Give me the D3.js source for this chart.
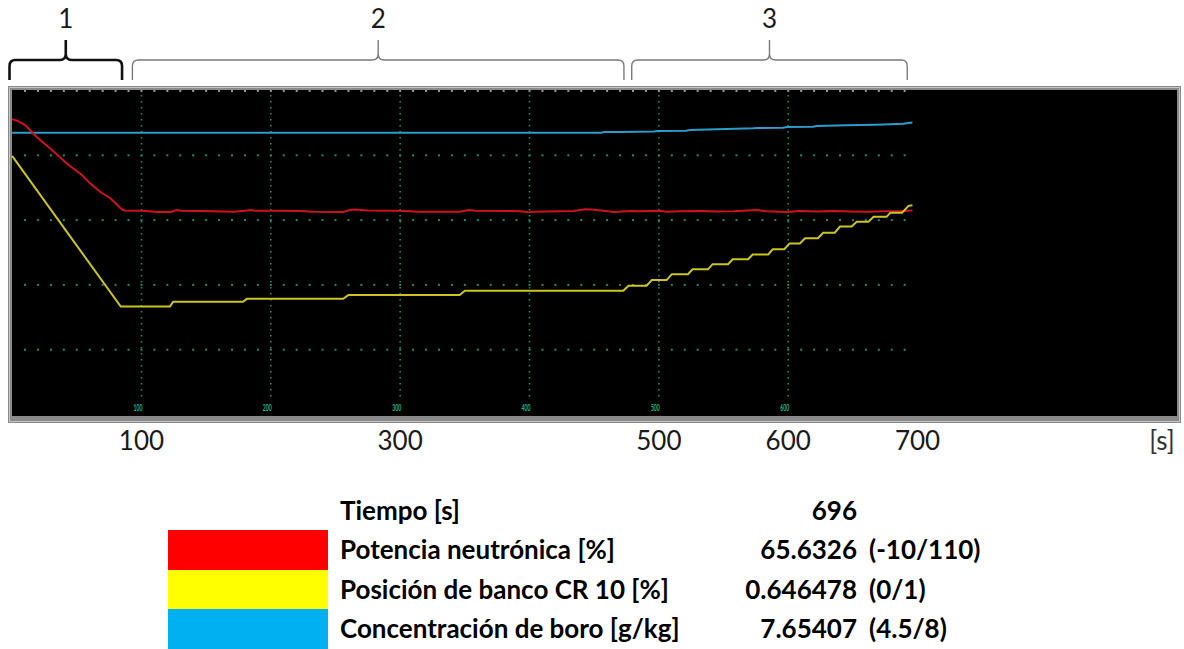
<!DOCTYPE html>
<html><head><meta charset="utf-8">
<script src="https://cdn.jsdelivr.net/npm/d3@7"></script>
<style>html,body{margin:0;padding:0;background:#fff;} svg{display:block;}</style>
</head><body>
<script>
// ---- data (time [s], value) ----
const redSeries = [[0,99.4],[4,98.8],[10,97.2],[15,94.8],[19,92.8],[24,90.7],[30,88.3],[36,85.7],[42,83.1],[46,81.6],[54,78.7],[60,75.7],[68,72.5],[76,70.1],[82,67.3],[85,65.9],[87,65.6],[101,65.5],[108,65.2],[112,65.0],[123,65.0],[127,65.7],[131,65.5],[155,65.3],[171,65.1],[180,65.5],[184,65.7],[188,65.5],[207,65.5],[222,65.4],[233,65.1],[256,65.0],[261,65.7],[265,65.9],[275,65.6],[300,65.5],[315,65.1],[346,65.1],[353,65.7],[358,65.5],[393,65.3],[399,64.9],[403,65.1],[434,65.4],[443,66.0],[448,65.9],[457,65.5],[465,65.0],[478,65.4],[485,65.3],[494,65.4],[501,65.5],[506,65.1],[516,65.3],[532,65.4],[545,65.2],[558,65.3],[576,65.7],[583,65.3],[599,65.0],[609,65.4],[622,65.2],[635,65.4],[648,65.2],[661,65.1],[674,65.3],[686,65.3],[696,65.6]];
const yellowSeries = [[0,0.798],[84,0.333],[122,0.333],[124.5,0.348],[178.5,0.348],[181.5,0.357],[256,0.357],[260,0.369],[346,0.369],[350,0.382],[472.5,0.382],[476.5,0.397],[490.5,0.397],[494.5,0.415],[506,0.415],[510,0.433],[522.5,0.433],[526,0.448],[538,0.448],[541.5,0.464],[553.5,0.464],[557,0.479],[569,0.479],[572.5,0.494],[584.5,0.494],[588,0.510],[597,0.510],[601,0.528],[609,0.528],[613,0.544],[623,0.544],[627,0.561],[636,0.561],[640,0.580],[649,0.580],[653,0.595],[662,0.595],[666,0.610],[676,0.610],[679,0.623],[688,0.623],[693,0.644],[696,0.646]];
const blueSeries = [[0,7.544],[455,7.544],[458,7.551],[470,7.552],[496,7.556],[499,7.563],[521,7.566],[524,7.573],[545,7.581],[552,7.584],[573,7.592],[576,7.595],[596,7.598],[599,7.606],[619,7.609],[622,7.617],[645,7.624],[668,7.631],[689,7.641],[696,7.654]];

const gridTimes = [100,200,300,400,500,600];
const gridLevels = [0.2,0.4,0.6,0.8];
const axisLabels = [100,300,500,600,700];
const phaseLabels = ["1","2","3"];
const phaseStarts = [-2,93,479];
const phaseEnds = [85,473,692];

const legendNames = ["Tiempo [s]","Potencia neutrónica [%]","Posición de banco CR 10 [%]","Concentración de boro [g/kg]"];
const legendValues = ["696","65.6326","0.646478","7.65407"];
const legendRanges = ["","(-10/110)","(0/1)","(4.5/8)"];
const legendColors = [null,"#ff0000","#ffff00","#00b0f0"];

// ---- drawing ----
const W=1184,H=649;
const svg = d3.select("body").append("svg").attr("width",W).attr("height",H)
  .style("font-family","Lato, 'Open Sans', sans-serif");
svg.append("rect").attr("width",W).attr("height",H).attr("fill","#fff");

const x = d3.scaleLinear().domain([0,900]).range([12.1,1176.3]);
const yRed = d3.scaleLinear().domain([-10,110]).range([414.5,90.5]);
const yYel = d3.scaleLinear().domain([0,1]).range([414.5,90.5]);
const yBlue = d3.scaleLinear().domain([4.5,8]).range([414.5,90.5]);

// frame
svg.append("rect").attr("x",8).attr("y",86).attr("width",1173).attr("height",337).attr("fill","#8a8a8a");
svg.append("rect").attr("x",9.5).attr("y",87.5).attr("width",1170).attr("height",334).attr("fill","none").attr("stroke","#c4c4c4").attr("stroke-width",1);
svg.append("rect").attr("x",12).attr("y",90).attr("width",1165).attr("height",326).attr("fill","#000");

const dotTimes = d3.range(10,691,10);
// top edge dots
svg.append("g").selectAll("rect").data(dotTimes).join("rect")
  .attr("x",d=>x(d)-1).attr("y",90).attr("width",2).attr("height",2).attr("fill","#8f9a96");
// horizontal dotted grid
const hg = svg.append("g");
gridLevels.forEach(g=>{
  hg.append("g").selectAll("rect").data(dotTimes).join("rect")
    .attr("x",d=>x(d)-1).attr("y",yYel(g)-1).attr("width",2).attr("height",2).attr("fill","#1f8a6c");
});
// vertical dotted grid
svg.append("g").selectAll("line").data(gridTimes).join("line")
  .attr("x1",d=>x(d)).attr("x2",d=>x(d)).attr("y1",95).attr("y2",401)
  .attr("stroke","#1f8a6c").attr("stroke-width",1.6).attr("stroke-dasharray","1.6,4.4");
// tiny inner labels
svg.append("g").selectAll("text").data(gridTimes).join("text")
  .attr("x",d=>x(d)-8).attr("y",411).attr("font-size",9).attr("font-weight","bold").attr("textLength",9)
  .attr("lengthAdjust","spacingAndGlyphs").attr("fill","#26b984").text(d=>d);

// series
const line = (ys)=>d3.line().x(d=>x(d[0])).y(d=>ys(d[1]));
svg.append("path").datum(blueSeries).attr("d",line(yBlue)).attr("fill","none").attr("stroke","#2a9dcc").attr("stroke-width",2);
svg.append("path").datum(redSeries).attr("d",line(yRed)).attr("fill","none").attr("stroke","#d0111e").attr("stroke-width",2);
svg.append("path").datum(yellowSeries).attr("d",line(yYel)).attr("fill","none").attr("stroke","#cbc51c").attr("stroke-width",2);

// outer axis labels
svg.append("g").selectAll("text").data(axisLabels).join("text")
  .attr("x",d=>x(d)).attr("y",450).attr("text-anchor","middle").attr("font-size",26).attr("fill","#1a1a1a").text(d=>d);
svg.append("text").attr("x",1162).attr("y",450).attr("text-anchor","middle").attr("font-size",26).attr("fill","#333").text("[s]");

// phase brackets
phaseLabels.forEach((lab,i)=>{
  const x0=x(phaseStarts[i]), x1=x(phaseEnds[i]), xm=(x0+x1)/2;
  const r=6, yb=80, yh=60, yt=40;
  const p = `M${x0},${yb} L${x0},${yh+r} Q${x0},${yh} ${x0+r},${yh} L${xm-r},${yh} Q${xm},${yh} ${xm},${yh-r} L${xm},${yt}`
          + ` M${xm},${yh-r} Q${xm},${yh} ${xm+r},${yh} L${x1-r},${yh} Q${x1},${yh} ${x1},${yh+r} L${x1},${yb}`;
  svg.append("path").attr("d",p).attr("fill","none")
    .attr("stroke", i===0?"#111":"#7a7a7a").attr("stroke-width", i===0?2.6:1.4);
  svg.append("text").attr("x",xm).attr("y",28).attr("text-anchor","middle").attr("font-size",26).attr("fill","#1a1a1a").text(lab);
});

// legend
const rowBase = [520,559,599,638];
const lg = svg.append("g").attr("font-weight","bold").attr("font-size",26).attr("fill","#000");
legendNames.forEach((n,i)=>{
  if(legendColors[i]) lg.append("rect").attr("x",168).attr("y",rowBase[i]-29).attr("width",160).attr("height",40).attr("fill",legendColors[i]);
  lg.append("text").attr("x",340).attr("y",rowBase[i]).text(n);
  lg.append("text").attr("x",857).attr("y",rowBase[i]).attr("text-anchor","end").text(legendValues[i]);
  if(legendRanges[i]) lg.append("text").attr("x",869).attr("y",rowBase[i]).text(legendRanges[i]);
});
</script>
</body></html>
